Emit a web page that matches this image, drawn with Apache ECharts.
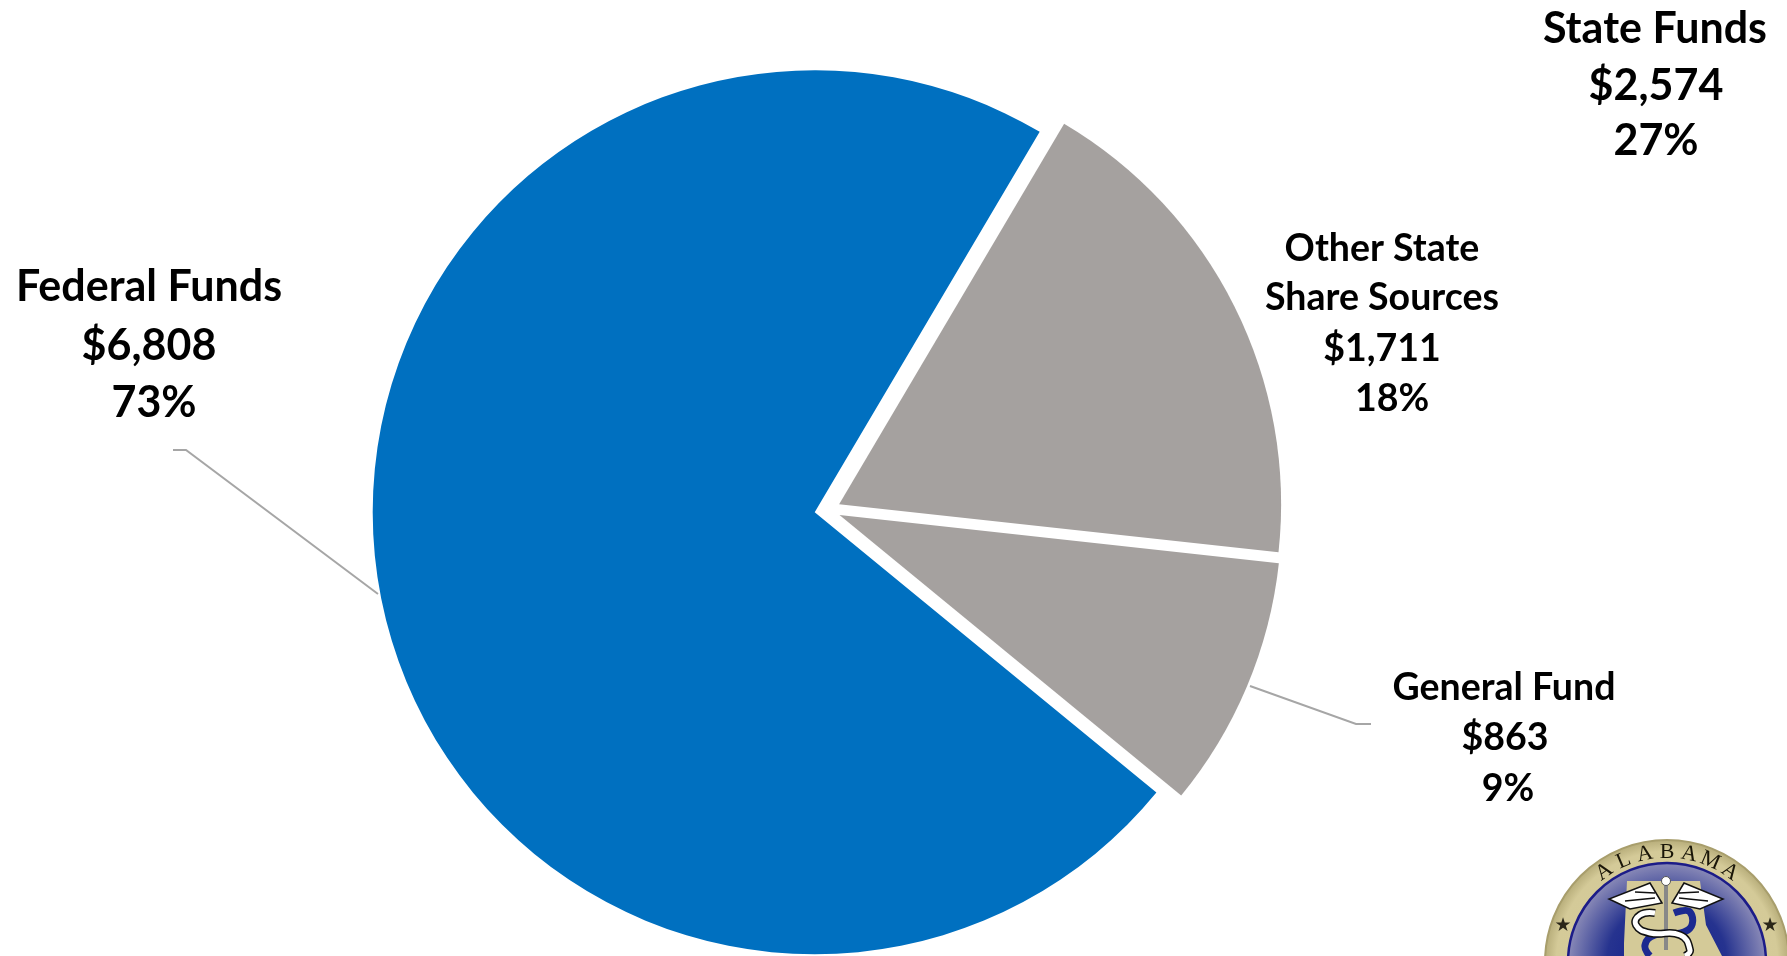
<!DOCTYPE html>
<html><head><meta charset="utf-8">
<style>html,body{margin:0;padding:0;background:#fff}#c{width:1787px;height:956px}</style>
<script src="https://cdn.jsdelivr.net/npm/echarts@6/dist/echarts.min.js"></script>
</head><body><div id="c"></div>
<script>
const sliceNames = ['Other State Share Sources','General Fund','Federal Funds'];
const sliceValues = [1711,863,6808];
const sliceColors = ['#a5a19f','#a5a19f','#0070c0'];
const federalLines = ['Federal Funds','$6,808','73%'];
const otherLines = ['Other State','Share Sources','$1,711','18%'];
const generalLines = ['General Fund','$863','9%'];
const groupLines = ['State Funds','$2,574','27%'];
const sealLetters = ['A','L','A','B','A','M','A'];

const F = 'Lato, sans-serif';
const SX = 1667, SY = 962, SR = 122;
const graphic = [];
const addLines = (lines, xs, ys, size) => lines.forEach((t,i)=>graphic.push({type:'text',silent:true,
  style:{text:t,x:xs[i],y:ys[i],align:'center',verticalAlign:'middle',fill:'#000',font:'bold '+size+'px '+F}}));
addLines(groupLines,[1655,1656,1656],[29,86,141],43);
addLines(federalLines,[149,149,154],[287,346,403],43);
addLines(otherLines,[1382,1382,1382,1392],[249,298,349,399],37.5);
addLines(generalLines,[1504,1505,1508],[688,738,789],37.5);

const stroke = (pts,color,w,smooth)=>({type:'polyline',silent:true,shape:{points:pts,smooth:smooth||0},style:{stroke:color,lineWidth:w,fill:null}});
graphic.push(
  stroke([[173,450],[186,450],[378,594]],'#a6a6a6',2),
  stroke([[1250,686],[1356,724],[1371,724]],'#a6a6a6',2),
  {type:'circle',shape:{cx:SX,cy:SY,r:SR},style:{fill:{type:'radial',x:.5,y:.5,r:.5,colorStops:[{offset:0,color:'#d8cfa0'},{offset:.9,color:'#d4ca98'},{offset:1,color:'#b5ab78'}]},stroke:'#a89e6c',lineWidth:2}},
  {type:'circle',shape:{cx:SX,cy:SY,r:99},style:{fill:{type:'radial',x:.5,y:.5,r:.5,colorStops:[{offset:0,color:'#0c1a8a'},{offset:.6,color:'#26338f'},{offset:1,color:'#8c8cb8'}]},stroke:'#1c1c88',lineWidth:2.5}},
  {type:'polygon',silent:true,shape:{points:[[1627,881],[1700,881],[1706,925],[1722,956],[1624,956],[1624,943]]},style:{fill:'#d4ca98'}},
  stroke([[1666,885],[1666,950]],'#888',4),
  {type:'circle',shape:{cx:1666,cy:881,r:4.5},style:{fill:'#fff',stroke:'#555',lineWidth:1}},
  {type:'polygon',shape:{points:[[1662,903],[1650,883],[1609,899],[1630,909]]},style:{fill:'#fff',stroke:'#111',lineWidth:1.5}},
  {type:'polygon',shape:{points:[[1672,903],[1684,883],[1723,899],[1700,909]]},style:{fill:'#fff',stroke:'#111',lineWidth:1.5}},
  stroke([[1655,898],[1625,901]],'#111',1.5), stroke([[1655,893],[1635,892]],'#111',1.5),
  stroke([[1679,898],[1708,901]],'#111',1.5), stroke([[1679,893],[1699,892]],'#111',1.5),
  stroke([[1674,913],[1690,912],[1688,930],[1655,935],[1645,945],[1650,956]],'#1c2a90',7,.5),
  stroke([[1655,913],[1640,915],[1636,925],[1650,933],[1680,935],[1690,950],[1685,956]],'#111',8,.5),
  stroke([[1655,913],[1640,915],[1636,925],[1650,933],[1680,935],[1690,950],[1685,956]],'#fff',5,.5),
  {type:'text',silent:true,style:{text:'★',x:1563,y:926,align:'center',verticalAlign:'middle',fill:'#2a2618',font:'19px "DejaVu Sans"'}},
  {type:'text',silent:true,style:{text:'★',x:1770,y:926,align:'center',verticalAlign:'middle',fill:'#2a2618',font:'19px "DejaVu Sans"'}}
);
sealLetters.forEach((ch,i)=>{
  const a = (i-3)*11.6*Math.PI/180;
  graphic.push({type:'text',silent:true,x:SX+110*Math.sin(a),y:SY-110*Math.cos(a),rotation:-a,
    style:{text:ch,x:0,y:0,align:'center',verticalAlign:'middle',fill:'#1a1608',font:'22px "Liberation Serif"'}});
});

const chart = echarts.init(document.getElementById('c'),null,{renderer:'canvas'});
chart.setOption({
  animation:false,
  backgroundColor:'#fff',
  graphic:{elements:graphic},
  series:[{
    type:'pie',
    center:[827.5,510],
    radius:[0,442],
    startAngle:59.4,
    clockwise:true,
    selectedMode:'multiple',
    selectedOffset:13,
    silent:true,
    label:{show:false},
    labelLine:{show:false},
    emphasis:{disabled:true},
    data:sliceNames.map((n,i)=>({name:n,value:sliceValues[i],selected:true,itemStyle:{color:sliceColors[i]}}))
  }]
});
</script></body></html>
